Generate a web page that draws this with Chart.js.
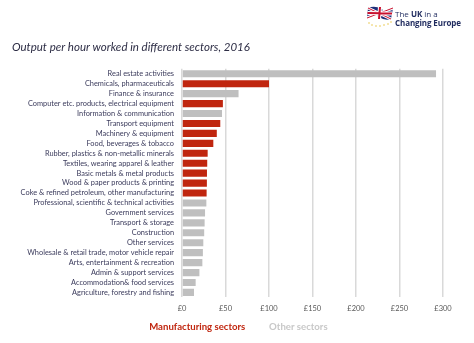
<!DOCTYPE html>
<html>
<head>
<meta charset="utf-8">
<script src="https://cdn.jsdelivr.net/npm/chart.js@4.4.1/dist/chart.umd.min.js"></script>
<style>
  html, body { margin: 0; padding: 0; background: #ffffff; }
  #wrap { position: relative; width: 474px; height: 343px; }
  #logo { position: absolute; left: 366px; top: 4px; width: 104px; height: 26px; }
  #logo svg { position: absolute; left: 0; top: 0; }
  #logo .t1 { position: absolute; left: 29px; top: 4px; font: 8px "Open Sans", sans-serif; color: #1e2a5e; white-space: nowrap; }
  #logo .t1 b { font-weight: 700; }
  #logo .t2 { position: absolute; left: 29px; top: 13px; font: 700 8px "Open Sans", sans-serif; color: #1e2a5e; white-space: nowrap; letter-spacing: -0.1px; }
</style>
</head>
<body>
<div id="wrap">
  <canvas id="chart" width="474" height="343"></canvas>
  <div id="logo">
    <svg width="28" height="26" viewBox="0 0 28 26">
      <path d="M2 4 Q9 1 15 5 T27 4 L25 15 Q19 17 13 13 T1 14 Z" fill="#1f2f7a"/>
      <path d="M2 4 L25 15 M27 4 L1 14" stroke="#ffffff" stroke-width="3"/>
      <path d="M2 4 L25 15 M27 4 L1 14" stroke="#c8102e" stroke-width="1"/>
      <path d="M14 3 L13 15 M1.5 9 L26 9.5" stroke="#ffffff" stroke-width="4"/>
      <path d="M14 3 L13 15 M1.5 9 L26 9.5" stroke="#c8102e" stroke-width="2"/>
      <g fill="#e8c64a">
        <circle cx="3" cy="19" r="0.8"/><circle cx="6" cy="21" r="0.8"/><circle cx="10" cy="22" r="0.8"/>
        <circle cx="14" cy="22" r="0.8"/><circle cx="18" cy="21" r="0.8"/><circle cx="22" cy="20" r="0.8"/>
        <circle cx="25" cy="18" r="0.8"/>
      </g>
    </svg>
    <div class="t1">The <b>UK</b> in a</div>
    <div class="t2">Changing Europe</div>
  </div>
</div>
<script>
// Output per hour worked by sector, 2016 (£)
const sectors = [
  "Real estate activities",
  "Chemicals, pharmaceuticals",
  "Finance & insurance",
  "Computer etc. products, electrical equipment",
  "Information & communication",
  "Transport equipment",
  "Machinery & equipment",
  "Food, beverages & tobacco",
  "Rubber, plastics & non-metallic minerals",
  "Textiles, wearing apparel & leather",
  "Basic metals & metal products",
  "Wood & paper products & printing",
  "Coke & refined petroleum, other manufacturing",
  "Professional, scientific & technical activities",
  "Government services",
  "Transport & storage",
  "Construction",
  "Other services",
  "Wholesale & retail trade, motor vehicle repair",
  "Arts, entertainment & recreation",
  "Admin & support services",
  "Accommodation& food services",
  "Agriculture, forestry and fishing"
];
const outputPerHour = [
  292, 100, 65, 47, 46, 44, 40, 36, 29.5, 29, 28.7, 28.6, 28.3,
  28, 26.5, 26, 25.5, 24.5, 24, 23.4, 20, 15.7, 13.8
];
// true = manufacturing sector
const isManufacturing = [
  false, true, false, true, false, true, true, true, true, true, true, true, true,
  false, false, false, false, false, false, false, false, false, false
];
const groupNames = ["Manufacturing sectors", "Other sectors"];
const xTicks = [0, 50, 100, 150, 200, 250, 300];

const RED = "#c0260f";
const GREY = "#bfbfbf";
const FONT = "Lato, 'Open Sans', sans-serif";

new Chart(document.getElementById("chart"), {
  type: "bar",
  data: {
    labels: sectors,
    datasets: [{
      data: outputPerHour,
      backgroundColor: isManufacturing.map(m => m ? RED : GREY),
      borderWidth: 0,
      barPercentage: 0.72,
      categoryPercentage: 1.0
    }]
  },
  options: {
    indexAxis: "y",
    responsive: false,
    animation: false,
    layout: { padding: { left: 12, right: 31, top: 0, bottom: 1 } },
    scales: {
      x: {
        min: 0,
        max: 300,
        afterBuildTicks: axis => { axis.ticks = xTicks.map(v => ({ value: v })); },
        grid: { color: "#d9d9d9", lineWidth: 1.5, drawTicks: false },
        border: { display: false },
        ticks: {
          padding: 7,
          color: "#595959",
          font: { family: FONT, size: 7.5 },
          callback: v => "£" + v
        }
      },
      y: {
        grid: { display: false, drawTicks: false },
        border: { display: false },
        afterFit: axis => { axis.width = 170; },
        ticks: {
          padding: 8,
          autoSkip: false,
          color: "#3b3b5c",
          font: { family: FONT, size: 7.4 }
        }
      }
    },
    plugins: {
      tooltip: { enabled: false },
      title: {
        display: true,
        text: "Output per hour worked in different sectors, 2016",
        align: "start",
        color: "#2d2d45",
        font: { family: FONT, size: 11.5, style: "italic", weight: "normal" },
        padding: { top: 40, bottom: 15 }
      },
      legend: {
        display: true,
        position: "bottom",
        labels: {
          boxWidth: 17,
          boxHeight: 0,
          padding: 2,
          font: { family: FONT, size: 9.6, weight: "bold" },
          generateLabels: () => groupNames.map((name, i) => ({
            text: name,
            fillStyle: "rgba(0,0,0,0)",
            strokeStyle: "rgba(0,0,0,0)",
            lineWidth: 0,
            fontColor: i === 0 ? RED : "#c8c8c8",
            datasetIndex: 0
          }))
        }
      }
    }
  }
});
</script>
</body>
</html>
